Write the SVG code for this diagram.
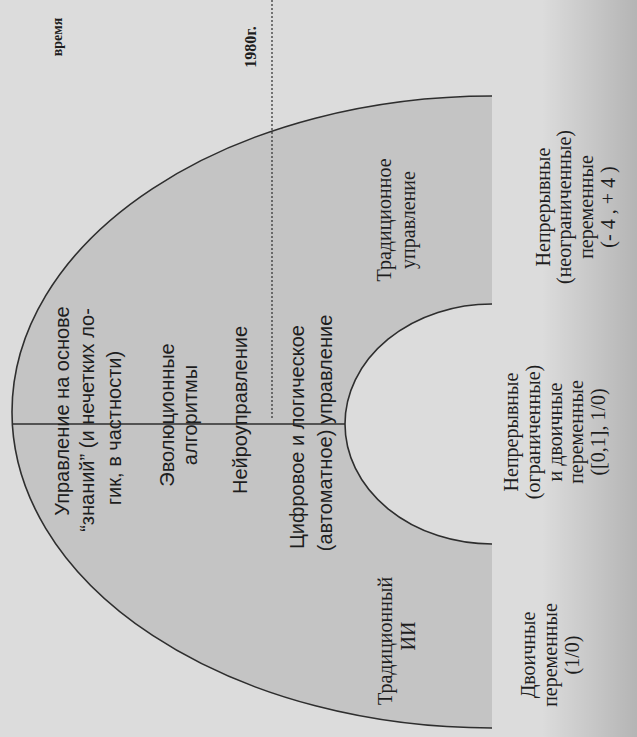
<svg xmlns="http://www.w3.org/2000/svg" width="637" height="737" viewBox="0 0 637 737">
<defs>
<style>
.serif{font-family:"Liberation Serif","Times New Roman",serif;fill:#1e1e1e;font-size:20px}
.sans{font-family:"Liberation Sans",Arial,sans-serif;fill:#1e1e1e;font-size:20px}
.bold{font-weight:bold}
.arc{fill:none;stroke:#2e2e2e;stroke-width:1.6}
.conn{stroke:#2e2e2e;fill:none}
</style>
<linearGradient id="edge" x1="0" y1="0" x2="1" y2="0">
<stop offset="0.85" stop-color="#000" stop-opacity="0"/>
<stop offset="1" stop-color="#000" stop-opacity="0.18"/>
</linearGradient>
</defs>
<rect width="637" height="737" fill="#dcdcdc"/>
<rect width="637" height="737" fill="url(#edge)"/>
<g id="ring">
<path d="M 492 96 A 480 316 0 0 0 492 728 L 492 544 A 147 120 0 0 1 492 304 Z" fill="#c4c4c4"/>
<path class="arc" d="M 492 96 A 480 316 0 0 0 492 728"/>
<path class="arc" d="M 492 544 A 147 120 0 0 1 492 304"/>
</g>
<g id="connectors">
<line class="conn" x1="13" y1="424" x2="345" y2="424" stroke-width="1.6"/>
<line class="conn" x1="272" y1="0" x2="272" y2="418" stroke-width="1.2" stroke-dasharray="2 2"/>
</g>
<g id="time">
<text class="serif bold" style="font-size:14px" transform="translate(62,37) rotate(-90)" text-anchor="middle">время</text>
<text class="serif bold" style="font-size:16px" transform="translate(256,47) rotate(-90)" text-anchor="middle">1980г.</text>
</g>
<g id="knowledge">
<text class="sans" transform="translate(69,411) rotate(-90)" text-anchor="middle">Управление  на основе</text>
<text class="sans" transform="translate(94,420) rotate(-90)" text-anchor="middle">“знаний” (и нечетких ло-</text>
<text class="sans" transform="translate(121,428) rotate(-90)" text-anchor="middle">гик, в частности)</text>
</g>
<g id="evolution">
<text class="sans" transform="translate(174,415) rotate(-90)" text-anchor="middle">Эволюционные</text>
<text class="sans" transform="translate(197,415) rotate(-90)" text-anchor="middle">алгоритмы</text>
</g>
<g id="neuro">
<text class="sans" transform="translate(247,410) rotate(-90)" text-anchor="middle">Нейроуправление</text>
</g>
<g id="digital">
<text class="sans" transform="translate(304,437) rotate(-90)" text-anchor="middle">Цифровое и логическое</text>
<text class="sans" transform="translate(332,433) rotate(-90)" text-anchor="middle">(автоматное) управление</text>
</g>
<g id="trad-control">
<text class="serif" transform="translate(391,220) rotate(-90)" text-anchor="middle">Традиционное</text>
<text class="serif" transform="translate(415,220) rotate(-90)" text-anchor="middle">управление</text>
</g>
<g id="trad-ai">
<text class="serif" transform="translate(392,641) rotate(-90)" text-anchor="middle">Традиционный</text>
<text class="serif" transform="translate(415,636) rotate(-90)" text-anchor="middle">ИИ</text>
</g>
<g id="binary">
<text class="serif" transform="translate(535,655) rotate(-90)" text-anchor="middle">Двоичные</text>
<text class="serif" transform="translate(557,655) rotate(-90)" text-anchor="middle">переменные</text>
<text class="serif" transform="translate(579,655) rotate(-90)" text-anchor="middle">(1/0)</text>
</g>
<g id="bounded">
<text class="serif" transform="translate(518,432) rotate(-90)" text-anchor="middle">Непрерывные</text>
<text class="serif" transform="translate(540,432) rotate(-90)" text-anchor="middle">(ограниченные)</text>
<text class="serif" transform="translate(562,432) rotate(-90)" text-anchor="middle">и двоичные</text>
<text class="serif" transform="translate(583,432) rotate(-90)" text-anchor="middle">переменные</text>
<text class="serif" transform="translate(605,432) rotate(-90)" text-anchor="middle">([0,1], 1/0)</text>
</g>
<g id="unbounded">
<text class="serif" transform="translate(550,207) rotate(-90)" text-anchor="middle">Непрерывные</text>
<text class="serif" transform="translate(571,207) rotate(-90)" text-anchor="middle">(неограниченные)</text>
<text class="serif" transform="translate(593,207) rotate(-90)" text-anchor="middle">переменные</text>
<text class="serif" transform="translate(615,207) rotate(-90)" text-anchor="middle">(- 4  , + 4 )</text>
</g>
</svg>
